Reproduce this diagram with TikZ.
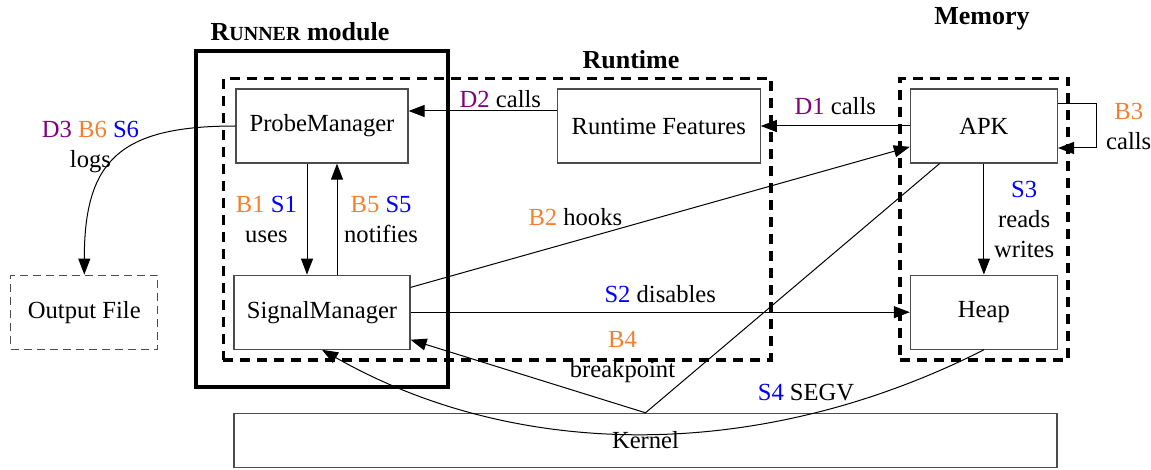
\documentclass[tikz,border=0pt]{standalone}
\usepackage{fontspec}
\setmainfont{Liberation Serif}
\usepackage{tikz}
\usetikzlibrary{arrows.meta, positioning, fit}

\definecolor{dcol}{RGB}{128,0,128}
\definecolor{bcol}{RGB}{242,128,48}
\definecolor{scol}{RGB}{0,0,255}
\newcommand{\dlab}[1]{\textcolor{dcol}{#1}}
\newcommand{\blab}[1]{\textcolor{bcol}{#1}}
\newcommand{\slab}[1]{\textcolor{scol}{#1}}

\begin{document}
\begin{tikzpicture}[
            font=\fontsize{12.3pt}{15pt}\selectfont,
            box/.style={draw=black!70, line width=0.6pt, rectangle, minimum height=37pt, text centered},
            group/.style={draw, line width=1.8pt, dash pattern=on 5pt off 3.5pt, inner sep=5pt},
            module/.style={draw, line width=2pt, inner sep=18.5pt},
            title/.style={font=\fontsize{13pt}{15pt}\selectfont\bfseries},
            arrow/.style={-{Triangle[length=8pt, width=6pt]}, line width=0.5pt},
            lbl/.style={align=center}
        ]
        \useasboundingbox (0,0) rectangle (575.5pt,-235pt);

        % Nodes
        \node[box, minimum width=86pt] (pm) at (161pt,-63pt) {ProbeManager};
        \node[box, minimum width=88pt, below=55.5pt of pm] (sm) {SignalManager};
        \node[box, minimum width=101.5pt, right=74pt of pm] (rf) {Runtime Features};
        \node[box, minimum width=73.5pt, right=74.5pt of rf] (apk) {APK};
        \node[box, minimum width=73.5pt, below=55.5pt of apk] (heap) {Heap};
        \node[box, dashed, dash pattern=on 4pt off 2.5pt, minimum width=73.5pt, left=37.5pt of sm] (out) {Output File};
        \node[box, minimum width=411.5pt, minimum height=27pt, below=31.5pt of sm.south west, anchor=north west] (kernel) {Kernel};

        % Groups
        \node[module, fit=(pm)(sm)] (runner) {};
        \node[group, fit=(pm)(sm)(rf)] (runtime) {};
        \node[group, fit=(apk)(heap)] (memory) {};
        \node[title] (runner-title) at (150pt,-16pt) {R{\fontsize{10pt}{12pt}\selectfont UNNER} module};
        \node[title] (runtime-title) at (315.5pt,-30pt) {Runtime};
        \node[title] (memory-title) at (491pt,-9.5pt) {Memory};

        % Arrows
        \draw[arrow] ([yshift=7.5pt]rf.west) -- ([yshift=7.5pt]pm.east) node[pos=0.38, above=-2pt] {\dlab{D2} calls};
        \draw[arrow] (apk) -- (rf) node[midway, above=2pt] {\dlab{D1} calls};
        \draw[arrow] ([yshift=11pt]apk.east) -- ++(19pt,0) |- ([yshift=-11pt]apk.east) node[pos=0.25, right=1.5pt, lbl] {\blab{B3}\\calls};
        \draw[arrow] (apk) -- (heap) node[midway, right=1.5pt, lbl] {\slab{S3}\\reads\\writes};
        \draw[arrow] ([xshift=-7.5pt]pm.south) -- ([xshift=-7.5pt]sm.north) node[midway, left=1.5pt, lbl] {\blab{B1} \slab{S1}\\uses};
        \draw[arrow] ([xshift=7.5pt]sm.north) -- ([xshift=7.5pt]pm.south) node[midway, right=0pt, lbl] {\blab{B5} \slab{S5}\\notifies};
        \draw[arrow] (sm) -- (apk) node[pos=0.33, above=4pt] {\blab{B2} hooks};
        \draw[arrow] (sm) -- (heap) node[midway, above=1pt] {\slab{S2} disables};
        \draw[arrow] (apk) -- (kernel.north) -- (sm);
        \node[lbl] (b4-label) at (311.25pt,-178.5pt) {\blab{B4}\\breakpoint};
        \draw[arrow] (heap.south) .. controls +(-110.75pt,-56pt) and +(98.5pt,-56pt) .. (sm.south);
        \node (s4-label) at (403pt,-196.5pt) {\slab{S4} SEGV};
        \draw[arrow] (pm.west) .. controls +(-58pt,0) and +(0,57pt) .. (out.north);
        \node[lbl] (logs-label) at (45.25pt,-73.5pt) {\dlab{D3} \blab{B6} \slab{S6}\\logs};

    \end{tikzpicture}
\end{document}
